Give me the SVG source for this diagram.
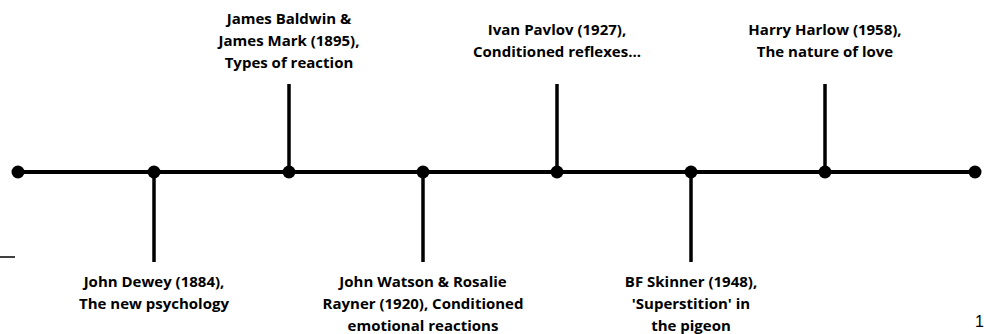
<svg xmlns="http://www.w3.org/2000/svg" width="984" height="334" viewBox="0 0 984 334">
  <style>
    .ln { stroke: #000; stroke-width: 4; fill: none; }
    .tick { stroke: #000; stroke-width: 3.5; fill: none; }
    .dot { fill: #000; }
    .lbl { font-family: "Open Sans", "Liberation Sans", sans-serif; font-weight: bold; font-size: 15px; fill: #000; text-anchor: middle; }
    .pg { font-family: "Liberation Sans", "Open Sans", sans-serif; font-size: 16px; fill: #000; }
  </style>
  <rect width="984" height="334" fill="#fff"/>

  <!-- timeline axis and the stems leading to each label -->
  <g id="connectors">
    <line class="ln" x1="18" y1="172" x2="975" y2="172"/>
    <line class="tick" x1="154" y1="172" x2="154" y2="262"/>
    <line class="tick" x1="289" y1="84" x2="289" y2="172"/>
    <line class="tick" x1="423" y1="172" x2="423" y2="262"/>
    <line class="tick" x1="557" y1="84" x2="557" y2="172"/>
    <line class="tick" x1="691" y1="172" x2="691" y2="262"/>
    <line class="tick" x1="825" y1="84" x2="825" y2="172"/>
  </g>

  <g id="start"><circle class="dot" cx="18" cy="172" r="6.5"/></g>
  <g id="dewey">
    <circle class="dot" cx="154" cy="172" r="6.5"/>
    <text class="lbl" x="154" y="287">John Dewey (1884),</text>
    <text class="lbl" x="154" y="309">The new psychology</text>
  </g>
  <g id="baldwin">
    <circle class="dot" cx="289" cy="172" r="6.5"/>
    <text class="lbl" x="289" y="24">James Baldwin &amp;</text>
    <text class="lbl" x="289" y="46">James Mark (1895),</text>
    <text class="lbl" x="289" y="68">Types of reaction</text>
  </g>
  <g id="watson">
    <circle class="dot" cx="423" cy="172" r="6.5"/>
    <text class="lbl" x="423" y="287">John Watson &amp; Rosalie</text>
    <text class="lbl" x="423" y="309">Rayner (1920), Conditioned</text>
    <text class="lbl" x="423" y="331">emotional reactions</text>
  </g>
  <g id="pavlov">
    <circle class="dot" cx="557" cy="172" r="6.5"/>
    <text class="lbl" x="557" y="35">Ivan Pavlov (1927),</text>
    <text class="lbl" x="557" y="57">Conditioned reflexes...</text>
  </g>
  <g id="skinner">
    <circle class="dot" cx="691" cy="172" r="6.5"/>
    <text class="lbl" x="691" y="287">BF Skinner (1948),</text>
    <text class="lbl" x="691" y="309">'Superstition' in</text>
    <text class="lbl" x="691" y="331">the pigeon</text>
  </g>
  <g id="harlow">
    <circle class="dot" cx="825" cy="172" r="6.5"/>
    <text class="lbl" x="825" y="35">Harry Harlow (1958),</text>
    <text class="lbl" x="825" y="57">The nature of love</text>
  </g>
  <g id="end"><circle class="dot" cx="975" cy="172" r="6.5"/></g>

  <line x1="0" y1="257" x2="15" y2="257" stroke="#000" stroke-width="1.5"/>
  <text class="pg" x="975" y="327">1</text>
</svg>
